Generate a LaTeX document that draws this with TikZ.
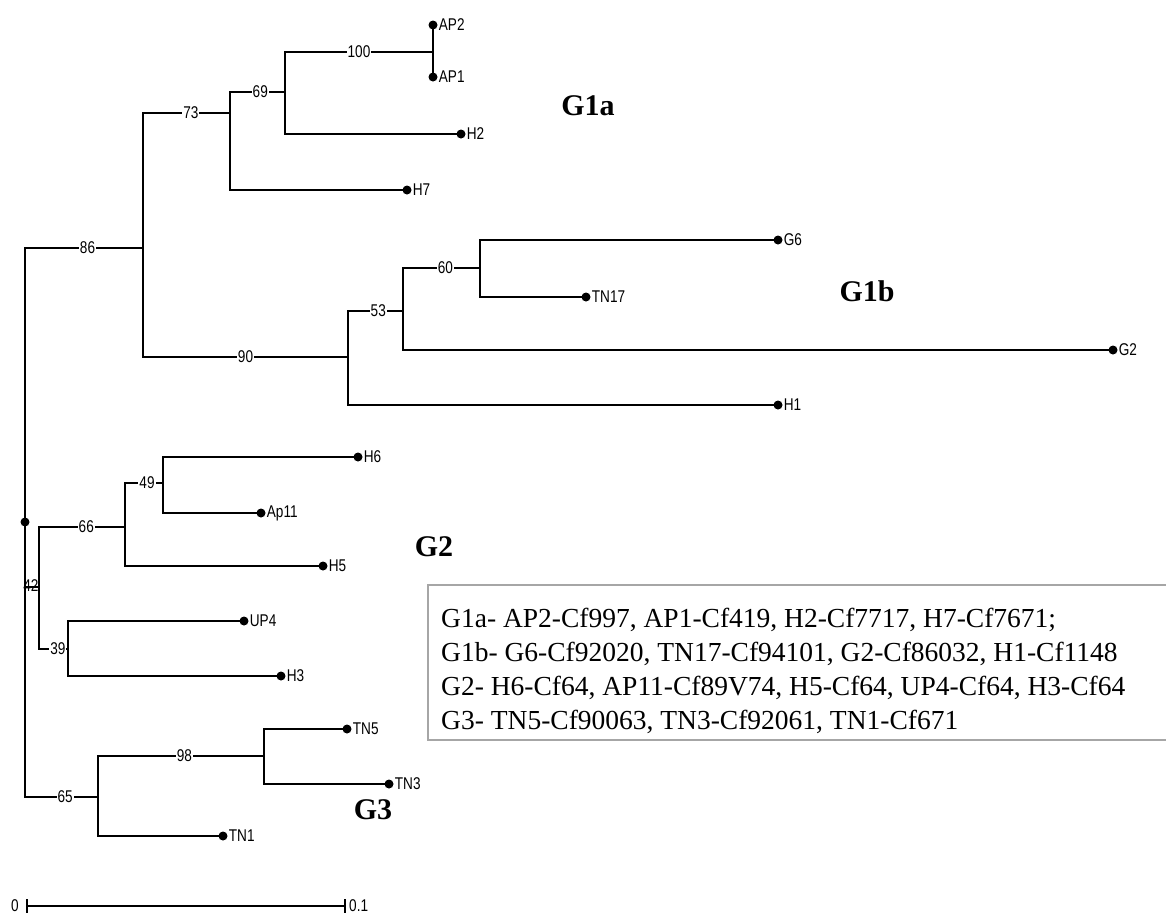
\documentclass[tikz,border=0pt]{standalone}
\usepackage{fontspec}
\setmainfont{Liberation Serif}
\newfontfamily\narrowsans[FakeStretch=0.8]{Liberation Sans}
\newfontfamily\legendfont{Liberation Serif}
\usetikzlibrary{calc}
\begin{document}
\begin{tikzpicture}[x=1pt,y=-1pt,
  br/.style={line width=2.1pt},
  leafdot/.style={circle,fill=black,inner sep=0pt,minimum size=9pt},
  leaflab/.style={anchor=west,inner sep=1pt,font=\narrowsans\fontsize{17}{17}\selectfont},
  boot/.style={fill=white,inner sep=1pt,font=\narrowsans\fontsize{17}{17}\selectfont},
  grp/.style={font=\bfseries\fontsize{30}{30}\selectfont},
  legtext/.style={anchor=base west,inner sep=0pt,font=\legendfont\fontsize{27.5}{27.5}\selectfont}]
\useasboundingbox (0,0) rectangle (1166,916);
\fill[white] (0,0) rectangle (1166,916);

% internal nodes
\coordinate (R) at (25,522);
\coordinate (n86) at (143,248);
\coordinate (n73) at (230,113);
\coordinate (n69) at (285,92);
\coordinate (n100) at (433,52);
\coordinate (n90) at (348,357);
\coordinate (n53) at (403,311);
\coordinate (n60) at (480,268);
\coordinate (n42) at (39,587);
\coordinate (n66) at (125,527);
\coordinate (n49) at (163,483);
\coordinate (n39) at (68,649);
\coordinate (n65) at (98,797);
\coordinate (n98) at (264,756);

% leaves
\foreach \n/\x/\y in {AP2/433/25, AP1/433/77, H2/461/134, H7/407/190,
  G6/778/240, TN17/586/297, G2/1113/350, H1/778/405,
  H6/358/457, Ap11/261/513, H5/323/566, UP4/244/621, H3/281/676,
  TN5/347/729, TN3/389/784, TN1/223/836}
  \node[leafdot] (\n) at (\x,\y) {};

% branches
\draw[br] (R) |- (n86);
\draw[br] (R) |- (n42);
\draw[br] (R) |- (n65);
\draw[br] (n86) |- (n73);
\draw[br] (n86) |- (n90);
\draw[br] (n73) |- (n69);
\draw[br] (n73) |- (H7.center);
\draw[br] (n69) |- (n100);
\draw[br] (n69) |- (H2.center);
\draw[br] (n100) -- (AP2.center);
\draw[br] (n100) -- (AP1.center);
\draw[br] (n90) |- (n53);
\draw[br] (n90) |- (H1.center);
\draw[br] (n53) |- (n60);
\draw[br] (n53) |- (G2.center);
\draw[br] (n60) |- (G6.center);
\draw[br] (n60) |- (TN17.center);
\draw[br] (n42) |- (n66);
\draw[br] (n42) |- (n39);
\draw[br] (n66) |- (n49);
\draw[br] (n66) |- (H5.center);
\draw[br] (n49) |- (H6.center);
\draw[br] (n49) |- (Ap11.center);
\draw[br] (n39) |- (UP4.center);
\draw[br] (n39) |- (H3.center);
\draw[br] (n65) |- (n98);
\draw[br] (n65) |- (TN1.center);
\draw[br] (n98) |- (TN5.center);
\draw[br] (n98) |- (TN3.center);

\node[leafdot] (Rdot) at (R) {};

% leaf labels
\foreach \n in {AP2, AP1, H2, H7, G6, TN17, G2, H1, H6, Ap11, H5, UP4, H3, TN5, TN3, TN1}
  \node[leaflab] (\n lab) at (\n.east) {\n};

% bootstrap values
\node[boot] (b100) at ($(n69 |- n100)!0.5!(n100)$) {100};
\node[boot] (b69) at ($(n73 |- n69)!0.55!(n69)$) {69};
\node[boot] (b73) at ($(n86 |- n73)!0.55!(n73)$) {73};
\node[boot] (b86) at ($(R |- n86)!0.53!(n86)$) {86};
\node[boot] (b90) at ($(n86 |- n90)!0.5!(n90)$) {90};
\node[boot] (b53) at ($(n90 |- n53)!0.55!(n53)$) {53};
\node[boot] (b60) at ($(n53 |- n60)!0.55!(n60)$) {60};
\node[boot] (b49) at ($(n66 |- n49)!0.58!(n49)$) {49};
\node[boot] (b66) at ($(n42 |- n66)!0.55!(n66)$) {66};
\node[inner sep=0pt,font=\narrowsans\fontsize{17}{17}\selectfont] (b42) at (31,586) {42};
\node[boot] (b39) at ($(n42 |- n39)!0.65!(n39)$) {39};
\node[boot] (b98) at ($(n65 |- n98)!0.52!(n98)$) {98};
\node[boot] (b65) at ($(R |- n65)!0.55!(n65)$) {65};

% group labels
\node[grp] (gG1a) at (588,106) {G1a};
\node[grp] (gG1b) at (867,291) {G1b};
\node[grp] (gG2) at (434,547) {G2};
\node[grp] (gG3) at (373,810) {G3};

% scale bar
\coordinate (s0) at (27,906);
\coordinate (s1) at (345,906);
\draw[line width=1.8pt] (s0) -- (s1);
\draw[line width=1.5pt] ($(s0)+(0,-7)$) -- ($(s0)+(0,7)$);
\draw[line width=1.5pt] ($(s1)+(0,-7)$) -- ($(s1)+(0,7)$);
\node[font=\narrowsans\fontsize{17}{17}\selectfont,anchor=east,inner sep=2pt] (sc0) at ($(s0)+(-6,0)$) {0};
\node[font=\narrowsans\fontsize{17}{17}\selectfont,anchor=west,inner sep=2pt] (sc1) at ($(s1)+(2,0)$) {0.1};

% legend
\draw[gray!70,line width=1.3pt] (428,585) rectangle (1172,740);
\node[legtext] (l1) at (441,627) {G1a- AP2-Cf997, AP1-Cf419, H2-Cf7717, H7-Cf7671;};
\node[legtext] (l2) at (441,661) {G1b- G6-Cf92020, TN17-Cf94101, G2-Cf86032, H1-Cf1148};
\node[legtext] (l3) at (441,695) {G2- H6-Cf64, AP11-Cf89V74, H5-Cf64, UP4-Cf64, H3-Cf64};
\node[legtext] (l4) at (441,729) {G3- TN5-Cf90063, TN3-Cf92061, TN1-Cf671};
\end{tikzpicture}
\end{document}
